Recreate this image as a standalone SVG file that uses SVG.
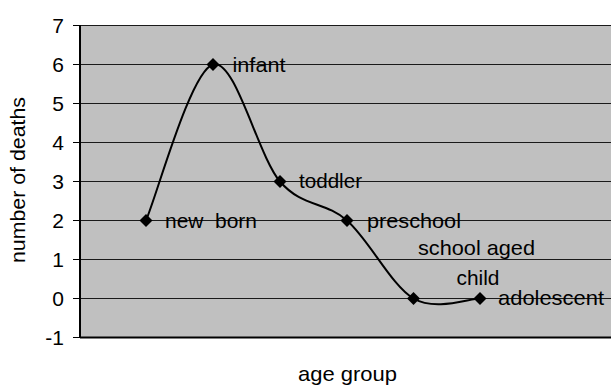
<svg xmlns="http://www.w3.org/2000/svg" width="611" height="385" viewBox="0 0 611 385">
  <style>
    text { font-family: "Liberation Sans", Arial, sans-serif; font-size: 21px; fill: #000; }
    .grid { stroke: #1a1a1a; stroke-width: 1; }
    .tick { stroke: #000; stroke-width: 1; }
    .num { text-anchor: end; }
    .curve { fill: none; stroke: #000; stroke-width: 2; }
    .mk { fill: #000; }
  </style>
  <defs>
    <path id="dia" d="M0,-6.5 L6.5,0 L0,6.5 L-6.5,0 Z"/>
  </defs>
  <rect x="80" y="25.5" width="531" height="312" fill="#c0c0c0"/>
  <g id="gridlines">
    <line class="grid" x1="80" y1="25.5" x2="611" y2="25.5"/>
    <line class="grid" x1="80" y1="64.5" x2="611" y2="64.5"/>
    <line class="grid" x1="80" y1="103.5" x2="611" y2="103.5"/>
    <line class="grid" x1="80" y1="142.5" x2="611" y2="142.5"/>
    <line class="grid" x1="80" y1="181.5" x2="611" y2="181.5"/>
    <line class="grid" x1="80" y1="220.5" x2="611" y2="220.5"/>
    <line class="grid" x1="80" y1="259.5" x2="611" y2="259.5"/>
    <line class="grid" x1="80" y1="298.5" x2="611" y2="298.5"/>
    <line x1="80" y1="337.5" x2="611" y2="337.5" stroke="#000" stroke-width="2"/>
  </g>
  <g id="axis">
    <line x1="80" y1="25" x2="80" y2="338" stroke="#000" stroke-width="2"/>
    <line class="tick" x1="73" y1="25.5" x2="80" y2="25.5"/>
    <line class="tick" x1="73" y1="64.5" x2="80" y2="64.5"/>
    <line class="tick" x1="73" y1="103.5" x2="80" y2="103.5"/>
    <line class="tick" x1="73" y1="142.5" x2="80" y2="142.5"/>
    <line class="tick" x1="73" y1="181.5" x2="80" y2="181.5"/>
    <line class="tick" x1="73" y1="220.5" x2="80" y2="220.5"/>
    <line class="tick" x1="73" y1="259.5" x2="80" y2="259.5"/>
    <line class="tick" x1="73" y1="298.5" x2="80" y2="298.5"/>
    <line class="tick" x1="73" y1="337.5" x2="80" y2="337.5"/>
    <text class="num" x="64" y="33">7</text>
    <text class="num" x="64" y="72">6</text>
    <text class="num" x="64" y="111">5</text>
    <text class="num" x="64" y="150">4</text>
    <text class="num" x="64" y="189">3</text>
    <text class="num" x="64" y="228">2</text>
    <text class="num" x="64" y="267">1</text>
    <text class="num" x="64" y="306">0</text>
    <text class="num" x="64" y="345">-1</text>
    <text transform="translate(25,180) rotate(-90)" text-anchor="middle" textLength="166" lengthAdjust="spacingAndGlyphs">number of deaths</text>
    <text x="347.5" y="381" text-anchor="middle" textLength="99" lengthAdjust="spacingAndGlyphs">age group</text>
  </g>
  <g id="connectors">
    <path class="curve" d="M146,220.5 C157.2,194.5 190.7,71 213,64.5 C235.3,58 257.7,155.5 280,181.5 C302.3,207.5 324.75,201 347,220.5 C369.25,240 391.3,285.5 413.5,298.5 C435.7,311.5 468.9,298.5 480,298.5"/>
  </g>
  <g id="new-born">
    <use href="#dia" class="mk" x="146" y="220.5"/>
    <text x="165" y="227.5" textLength="92" lengthAdjust="spacingAndGlyphs" style="white-space:pre">new  born</text>
  </g>
  <g id="infant">
    <use href="#dia" class="mk" x="213" y="64.5"/>
    <text x="232.5" y="71.5" textLength="53" lengthAdjust="spacingAndGlyphs">infant</text>
  </g>
  <g id="toddler">
    <use href="#dia" class="mk" x="280" y="181.5"/>
    <text x="299" y="188" textLength="63" lengthAdjust="spacingAndGlyphs">toddler</text>
  </g>
  <g id="preschool">
    <use href="#dia" class="mk" x="347" y="220.5"/>
    <text x="367" y="227.5" textLength="94" lengthAdjust="spacingAndGlyphs">preschool</text>
  </g>
  <g id="school-aged-child">
    <use href="#dia" class="mk" x="413.5" y="298.5"/>
    <text x="418" y="254.5" textLength="117" lengthAdjust="spacingAndGlyphs">school aged</text>
    <text x="456.5" y="285" textLength="43" lengthAdjust="spacingAndGlyphs">child</text>
  </g>
  <g id="adolescent">
    <use href="#dia" class="mk" x="480" y="298.5"/>
    <text x="498" y="305" textLength="106" lengthAdjust="spacingAndGlyphs">adolescent</text>
  </g>
</svg>
